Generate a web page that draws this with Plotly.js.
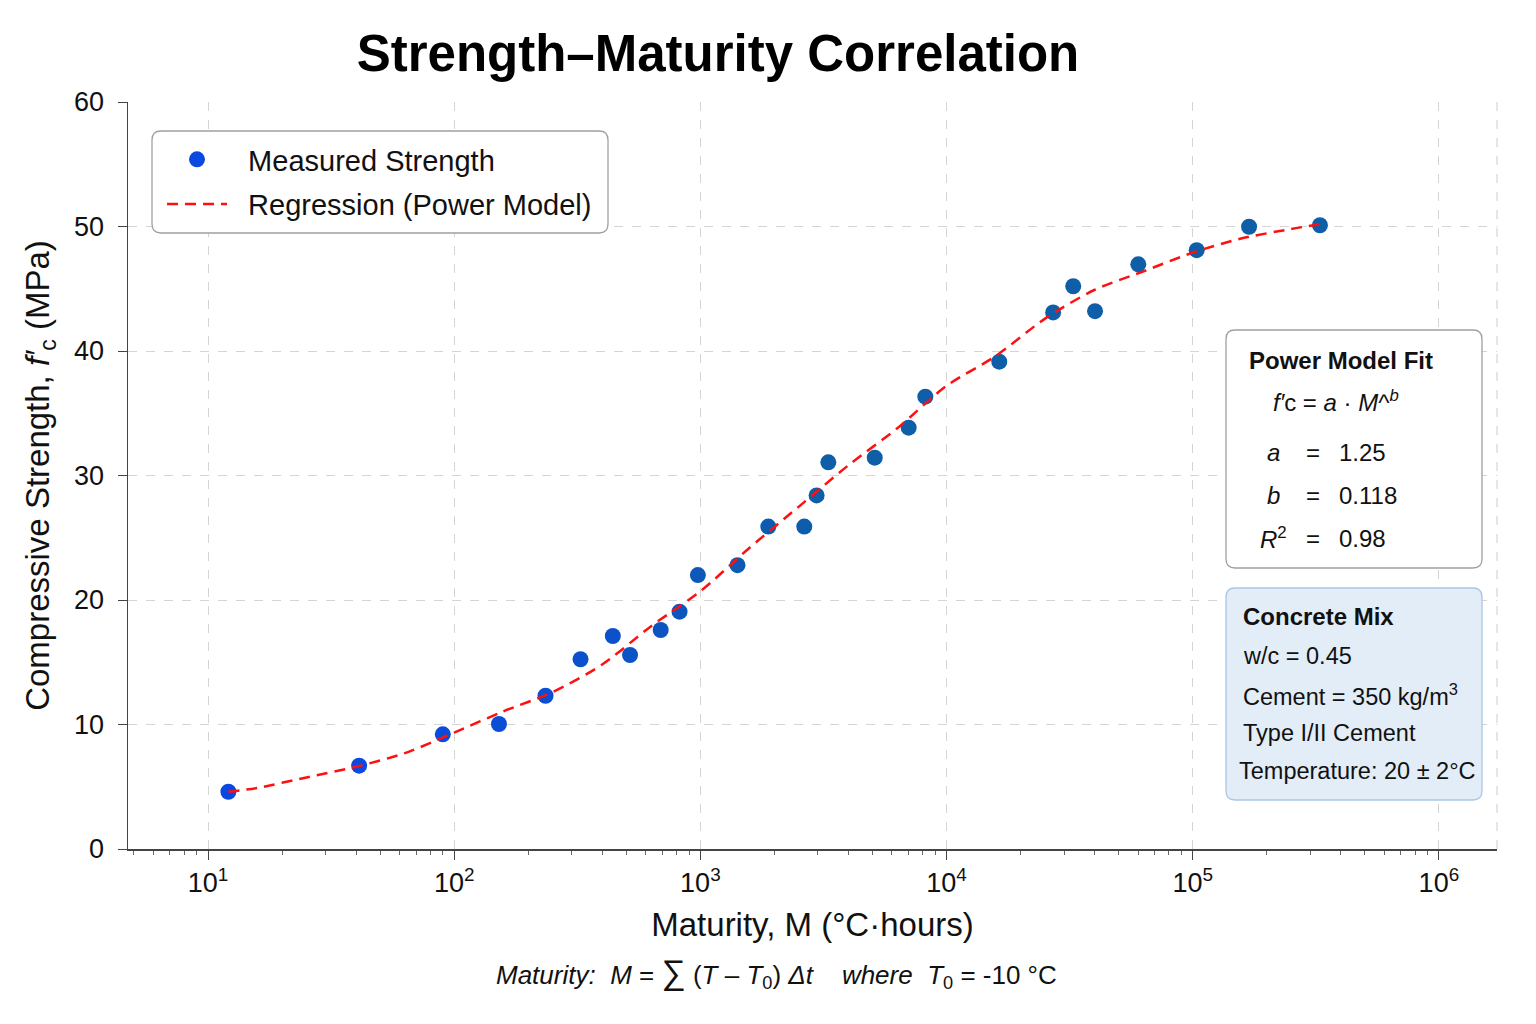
<!DOCTYPE html>
<html><head><meta charset="utf-8">
<script src="https://cdn.plot.ly/plotly-3.0.1.min.js"></script>
<style>html,body{margin:0;padding:0;background:#fff}#chart{width:1536px;height:1024px}</style>
</head><body><div id="chart"></div>
<script>
// ---- data ----
const maturity = [12.1, 41.1, 89.9, 152, 235, 326, 441, 518, 690, 823, 977, 1415, 1888, 2643, 2966, 3310, 5108, 7016, 8200, 16370, 27100, 32700, 40100, 60100, 103800, 169400, 328700];
const strength = [4.6, 6.69, 9.21, 10.04, 12.31, 15.24, 17.11, 15.58, 17.59, 19.06, 22.0, 22.8, 25.9, 25.9, 28.4, 31.06, 31.43, 33.84, 36.33, 39.14, 43.1, 45.2, 43.2, 46.96, 48.1, 49.98, 50.1];
const fitMaturity = [12.1, 15.8, 25.1, 39.8, 63.1, 100, 158, 251, 398, 631, 1000, 1585, 2512, 3981, 6310, 10000, 15850, 25120, 39810, 63100, 100000, 158500, 251200, 331000];
const fitStrength = [4.6, 4.9, 5.75, 6.6, 7.7, 9.35, 11.05, 12.6, 14.8, 17.9, 20.7, 24.2, 27.5, 30.8, 33.8, 37.2, 39.6, 42.6, 44.9, 46.4, 47.9, 49.05, 49.8, 50.2];
const xTickVals = [10, 100, 1000, 10000, 100000, 1000000];
const xTickText = ['10<sup>1</sup>', '10<sup>2</sup>', '10<sup>3</sup>', '10<sup>4</sup>', '10<sup>5</sup>', '10<sup>6</sup>'];
const yTickVals = [0, 10, 20, 30, 40, 50, 60];
const fitLabels = ['<i>a</i>', '<i>b</i>', '<i>R</i><sup>2</sup>'];
const fitValues = ['1.25', '0.118', '0.98'];
const mixLines = ['w/c = 0.45', 'Cement = 350 kg/m<sup>3</sup>', 'Type I/II Cement', 'Temperature: 20 ± 2°C'];

// ---- geometry helpers (pixel -> paper) ----
const L = 128, R = 1497, T = 102, B = 849;
const px = x => (x - L) / (R - L);
const py = y => (B - y) / (B - T);
function rr(x0, y0, x1, y1, r) {
  const P = (x, y) => px(x).toFixed(5) + ',' + py(y).toFixed(5);
  return 'M' + P(x0 + r, y0) + ' L' + P(x1 - r, y0) + ' Q' + P(x1, y0) + ' ' + P(x1, y0 + r) +
    ' L' + P(x1, y1 - r) + ' Q' + P(x1, y1) + ' ' + P(x1 - r, y1) +
    ' L' + P(x0 + r, y1) + ' Q' + P(x0, y1) + ' ' + P(x0, y1 - r) +
    ' L' + P(x0, y0 + r) + ' Q' + P(x0, y0) + ' ' + P(x0 + r, y0) + ' Z';
}
function mix(c1, c2, t) {
  const a = c1.map((v, i) => Math.round(v + (c2[i] - v) * t));
  return 'rgb(' + a.join(',') + ')';
}
const ptColors = maturity.map((_, i) => mix([10, 72, 226], [14, 94, 168], Math.min(1, i / 14)));

const FONT = 'Liberation Sans, Arial, sans-serif';
const NB = '\u00a0\u00a0';

const traces = [
  {
    x: maturity, y: strength, type: 'scatter', mode: 'markers', name: NB + 'Measured Strength',
    marker: { size: 16, color: ptColors, line: { width: 0 } }, legendgroup: 'm'
  },
  {
    x: fitMaturity, y: fitStrength, type: 'scatter', mode: 'lines', name: NB + 'Regression (Power Model)',
    line: { color: '#ff1010', width: 2.5, dash: '11px,7px', shape: 'spline', smoothing: 0.8 }, legendgroup: 'r'
  }
];

const ann = [];
function A(text, x, y, opts) {
  ann.push(Object.assign({ text: text, x: px(x), y: py(y), xref: 'paper', yref: 'paper', showarrow: false,
    xanchor: 'left', yanchor: 'middle', font: { family: FONT, size: 24, color: '#111' } }, opts || {}));
}
A('<b>Power Model Fit</b>', 1247, 360, { font: { family: FONT, size: 24, color: '#111' } });
A('<i>f′</i>c = <i>a</i> · <i>M</i>^<sup><i>b</i></sup>', 1271, 401, { font: { family: FONT, size: 24, color: '#111' } });
const rowsY = [453, 495, 538];
fitLabels.forEach((lab, i) => {
  A(lab, 1273, rowsY[i], { xanchor: 'center' });
  A('=', 1313, rowsY[i], { xanchor: 'center' });
  A(fitValues[i], 1337, rowsY[i]);
});
A('<b>Concrete Mix</b>', 1241, 616, { font: { family: FONT, size: 24, color: '#111' } });
const mixY = [656, 695, 733, 771];
mixLines.forEach((t, i) => A(t, i === 3 ? 1237 : 1241, mixY[i], { font: { family: FONT, size: 23.5, color: '#111' } }));
A('<i>Maturity:  M</i> = <span style="font-size:34px">∑</span> (<i>T</i> – <i>T</i><sub>0</sub>) <i>Δt</i>    <i>where  T</i><sub>0</sub> = -10 °C',
  776, 973, { xanchor: 'center', font: { family: FONT, size: 26, color: '#111' } });

const shapes = [
  { type: 'line', xref: 'paper', yref: 'paper', x0: 1, x1: 1, y0: 0, y1: 1, line: { color: '#cccccc', width: 1, dash: 'dash' }, layer: 'below' },
  { type: 'path', xref: 'paper', yref: 'paper', path: rr(152, 131, 608, 233, 9), fillcolor: 'rgba(255,255,255,0.95)', line: { color: '#a0a0a0', width: 1.3 }, layer: 'above' },
  { type: 'path', xref: 'paper', yref: 'paper', path: rr(1226, 330, 1482, 568, 9), fillcolor: 'rgba(255,255,255,0.95)', line: { color: '#a0a0a0', width: 1.3 }, layer: 'above' },
  { type: 'path', xref: 'paper', yref: 'paper', path: rr(1226, 588, 1482, 800, 9), fillcolor: '#e2edf8', line: { color: '#a9c7e3', width: 1.3 }, layer: 'above' }
];

const layout = {
  width: 1536, height: 1024,
  paper_bgcolor: '#ffffff', plot_bgcolor: '#ffffff',
  margin: { l: L, r: 1536 - R, t: T, b: 1024 - B },
  font: { family: FONT, color: '#111' },
  title: { text: '<b>Strength–Maturity Correlation</b>', x: 718 / 1536, xanchor: 'center', y: 1 - 53 / 1024, yanchor: 'middle',
    font: { family: FONT, size: 51, color: '#000' } },
  xaxis: {
    type: 'log', range: [0.675, 6.236],
    tickmode: 'array', tickvals: xTickVals, ticktext: xTickText,
    ticks: 'outside', ticklen: 9, tickcolor: '#444', tickwidth: 1,
    tickfont: { family: FONT, size: 27, color: '#111' },
    showgrid: true, gridcolor: '#d4d4d4', gridwidth: 1, griddash: 'dash',
    showline: true, linecolor: '#444', linewidth: 1.5, zeroline: false,
    minor: { ticks: 'outside', ticklen: 4, tickcolor: '#666', dtick: 'D1', showgrid: false },
    title: { text: 'Maturity, M (°C·hours)', font: { family: FONT, size: 33, color: '#111' }, standoff: 16 }
  },
  yaxis: {
    range: [0, 60], tickmode: 'array', tickvals: yTickVals,
    ticks: 'outside', ticklen: 9, tickcolor: '#444',
    tickfont: { family: FONT, size: 27, color: '#111' }, ticklabelstandoff: 8,
    showgrid: true, gridcolor: '#d4d4d4', gridwidth: 1, griddash: 'dash',
    showline: true, linecolor: '#444', linewidth: 1.5, zeroline: false,
    title: { text: 'Compressive Strength, <i>f′</i><sub>c</sub> (MPa)', font: { family: FONT, size: 33, color: '#111' }, standoff: 14 }
  },
  legend: {
    x: px(162), y: py(134), xanchor: 'left', yanchor: 'top',
    bgcolor: 'rgba(0,0,0,0)', borderwidth: 0,
    font: { family: FONT, size: 29, color: '#111' },
    itemwidth: 60, tracegroupgap: 4
  },
  shapes: shapes,
  annotations: ann,
  showlegend: true
};

Plotly.newPlot('chart', traces, layout, { staticPlot: true, displayModeBar: false });
</script>
</body></html>
